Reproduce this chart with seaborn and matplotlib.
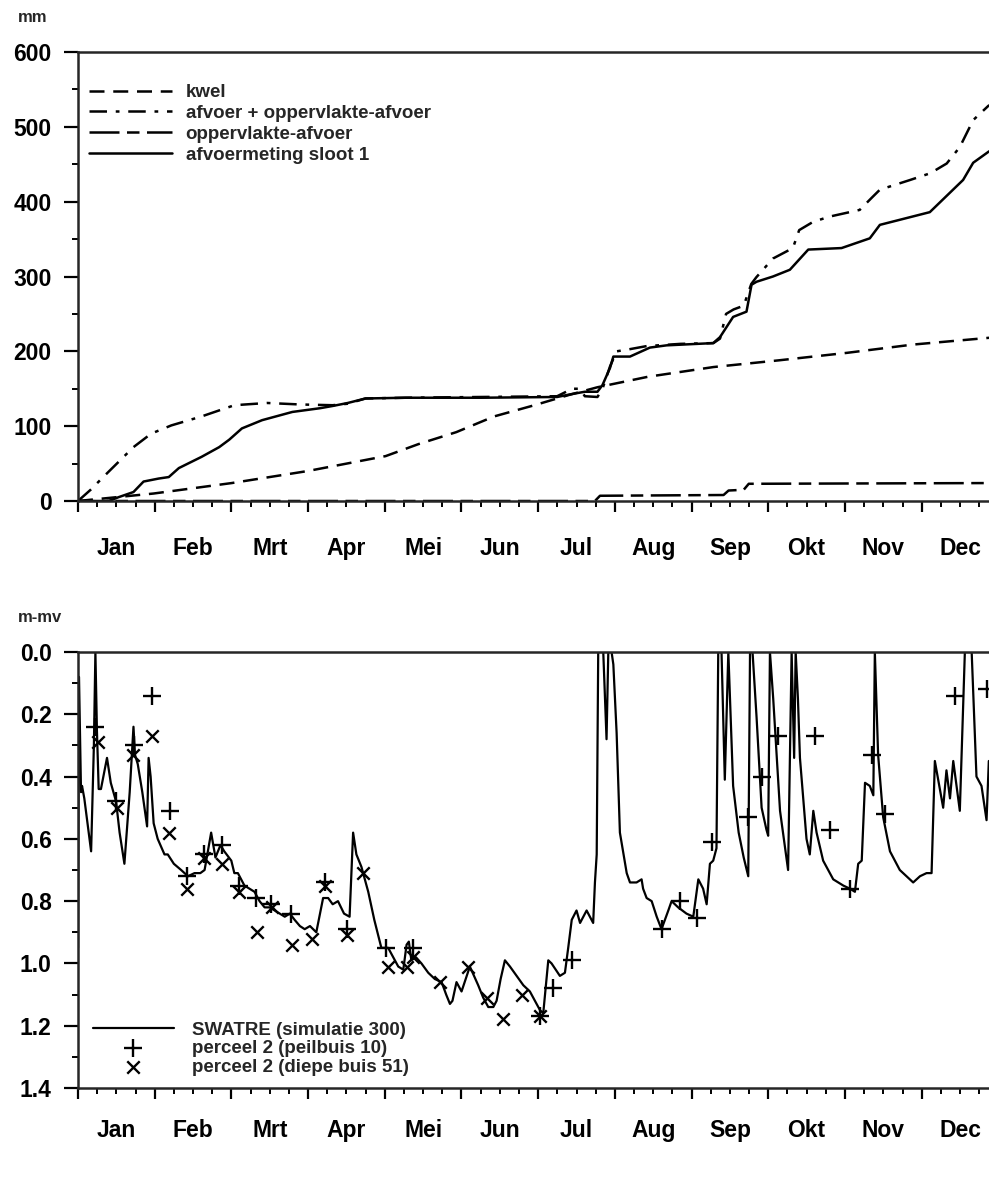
import numpy as np
import pandas as pd
import matplotlib
matplotlib.use("Agg")
import matplotlib.pyplot as plt
from matplotlib.ticker import FixedLocator, MultipleLocator, FormatStrFormatter
import seaborn as sns

# ---------------- data (day of year) ----------------
months = ["Jan", "Feb", "Mrt", "Apr", "Mei", "Jun", "Jul", "Aug", "Sep", "Okt", "Nov", "Dec"]

kwel_day = [0, 30, 61, 91, 105, 122, 135, 150, 165, 181, 195, 206, 226, 252, 278, 305, 331, 361, 365]
kwel_mm = [0, 10, 24, 40, 49, 60, 76, 92, 113, 128, 142, 152, 166, 179, 188, 198, 209, 218, 219]

afv_tot_day = [0, 5, 10, 16, 22, 29, 37, 49, 62, 75, 88, 101, 107, 114, 130, 160, 190, 196,
               199, 201, 206, 208, 211, 213.6, 219, 225.5, 239, 252, 254.6, 257, 260, 264,
               267, 269, 275.6, 283.5, 286, 291.5, 298, 310, 315, 318, 330, 338, 344.5,
               349.7, 355, 361, 365]
afv_tot_mm = [0, 15, 32, 52, 72, 90, 101, 113, 128, 131, 129, 128, 130, 137, 138, 139, 140, 150,
              150, 140, 139, 150, 180, 200, 203, 207, 210, 211, 217, 250, 256, 261,
              290, 299, 324, 338, 362, 373, 380, 389, 406, 416, 429, 438, 451,
              473, 509, 528, 535]

opp_day = [0, 205, 207, 256, 258, 264, 266, 365]
opp_mm = [0, 0, 7, 8, 14, 15, 23, 24]

meet_day = [0, 5, 10, 13, 16, 22, 26, 32, 36, 40, 49, 56, 60, 65, 73, 85, 96, 101, 107, 114,
            130, 160, 190, 196, 201, 206, 208, 211, 212.3, 218.9, 226.8, 233.4, 251.9, 254.6,
            259.8, 265.1, 267.1, 269.1, 275.6, 282.3, 289.6, 302.8, 314, 318, 337.8, 351,
            355, 361.2, 365]
meet_mm = [0, 0, -1, 1, 5, 12, 26, 30, 32, 44, 59, 72, 82, 97, 108, 119, 124, 127, 131, 137,
           138, 138, 139, 143, 146, 146, 155, 178, 193, 193, 205, 208, 211, 219,
           246, 253, 289, 293, 300, 309, 336, 338, 351, 369, 386, 429,
           452, 467, 472]

sw_day = [0.0, 0.4, 1.2, 1.6, 2.5, 5.2, 6.3, 6.9, 7.5, 8.2, 9.1, 11.5, 13.0, 15.1, 16.5, 18.4,
          20.5, 22.0, 22.6, 23.7, 25.5, 27.4, 28.0, 28.8, 30.0, 31.6, 34.3, 35.6, 38.0, 40.9,
          43.6, 46.2, 48.5, 50.2, 52.8, 54.5, 56.5, 58.0, 60.8, 62.0, 63.4, 66.0, 70.0, 72.0,
          74.0, 76.0, 78.0, 80.0, 82.0, 84.0, 85.9, 88.0, 89.9, 92.0, 94.5, 97.2, 99.2, 101.0,
          103.1, 105.5, 107.7, 109.1, 110.4, 112.4, 115.1, 117.5, 120.3, 123.0, 125.0, 127.0,
          129.0, 130.3, 131.2, 132.2, 134.0, 136.2, 138.9, 141.5, 144.2, 146.0, 147.5, 148.5,
          150.1, 152.1, 155.4, 158.7, 160.7, 162.7, 164.7, 166.0, 167.6, 169.3, 171.3, 176.6,
          179.2, 183.2, 184.5, 186.5, 187.8, 191.1, 193.1, 194.4, 195.8, 197.7, 199.1, 201.7,
          204.3, 205.0, 205.7, 206.3, 208.3, 209.6, 210.3, 211.6, 212.3, 213.6, 214.9, 217.6,
          218.9, 221.5, 223.5, 224.1, 225.5, 227.5, 229.5, 231.4, 234.1, 235.4, 238.0, 241.3,
          244.0, 246.0, 247.9, 249.3, 250.6, 251.9, 253.2, 253.9, 255.2, 256.5, 257.9, 259.8,
          262.0, 264.0, 265.8, 266.5, 267.5, 269.1, 271.1, 273.0, 273.7, 274.4, 275.7, 278.4,
          281.6, 283.0, 284.0, 284.6, 285.5, 286.3, 288.9, 290.2, 291.6, 292.9, 295.5, 299.5,
          303.5, 306.1, 308.1, 309.4, 310.8, 312.1, 314.0, 315.4, 316.0, 317.3, 319.3, 322.0,
          325.9, 331.2, 333.9, 336.5, 338.5, 339.8, 343.1, 344.4, 345.8, 347.1, 348.4, 349.7,
          351.7, 354.4, 356.3, 358.3, 360.3, 361.2]
sw_depth = [0.95, 0.08, 0.45, 0.43, 0.47, 0.64, 0.30, 0.00, 0.25, 0.44, 0.44, 0.34, 0.42, 0.48, 0.58, 0.68,
            0.45, 0.24, 0.33, 0.36, 0.45, 0.56, 0.34, 0.40, 0.55, 0.60, 0.65, 0.65, 0.68, 0.70,
            0.72, 0.71, 0.71, 0.70, 0.58, 0.66, 0.62, 0.64, 0.67, 0.71, 0.71, 0.75, 0.77, 0.80,
            0.82, 0.82, 0.83, 0.84, 0.85, 0.84, 0.86, 0.88, 0.89, 0.88, 0.90, 0.79, 0.79, 0.81,
            0.80, 0.84, 0.85, 0.58, 0.65, 0.69, 0.77, 0.86, 0.95, 0.95, 0.98, 1.01,
            1.02, 0.94, 0.93, 0.99, 0.98, 1.00, 1.03, 1.05, 1.06, 1.10, 1.13, 1.12,
            1.06, 1.09, 1.01, 1.07, 1.11, 1.14, 1.14, 1.12, 1.05, 0.99, 1.01, 1.07,
            1.09, 1.15, 1.16, 0.99, 1.00, 1.04, 1.03, 0.95, 0.86, 0.83, 0.87, 0.83,
            0.87, 0.74, 0.65, 0.00, 0.00, 0.28, 0.00, 0.00, 0.04, 0.26, 0.58, 0.71,
            0.74, 0.74, 0.73, 0.76, 0.79, 0.80, 0.85, 0.89, 0.83, 0.80, 0.82, 0.84,
            0.85, 0.73, 0.76, 0.81, 0.68, 0.67, 0.63, 0.00, 0.00, 0.41, 0.00, 0.43,
            0.58, 0.66, 0.72, 0.00, 0.00, 0.21, 0.50, 0.57, 0.59, 0.00, 0.15, 0.51,
            0.70, 0.00, 0.34, 0.00, 0.15, 0.34, 0.60, 0.65, 0.51, 0.58, 0.67, 0.73,
            0.75, 0.76, 0.77, 0.68, 0.67, 0.42, 0.43, 0.46, 0.00, 0.33, 0.53, 0.64,
            0.70, 0.74, 0.72, 0.71, 0.71, 0.35, 0.50, 0.38, 0.47, 0.35, 0.43, 0.51,
            0.00, 0.00, 0.40, 0.43, 0.54, 0.35]

peil_day = [6.9, 15.1, 22.4, 29.2, 36.5, 43.1, 49.8, 57.0, 64.0, 70.7, 76.6, 84.5, 98.0, 106.5,
            122.3, 132.9, 183.2, 188.5, 195.8, 231.4, 238.7, 245.3, 251.3, 265.8, 271.1, 277.7,
            292.2, 298.2, 306.1, 314.7, 320.0, 347.7, 360.3]
peil_depth = [0.24, 0.48, 0.30, 0.14, 0.51, 0.72, 0.65, 0.62, 0.75, 0.79, 0.81, 0.84, 0.74, 0.89,
              0.95, 0.95, 1.17, 1.08, 0.99, 0.89, 0.80, 0.855, 0.61, 0.53, 0.40, 0.27,
              0.27, 0.57, 0.76, 0.33, 0.52, 0.14, 0.12]

diep_day = [8.1, 15.3, 22.0, 29.2, 36.2, 43.3, 49.9, 57.0, 64.0, 70.8, 76.8, 84.7, 92.6, 98.0,
            106.5, 113.2, 123.0, 130.3, 132.9, 143.4, 154.6, 162.0, 168.6, 175.9, 183.2]
diep_depth = [0.29, 0.50, 0.33, 0.27, 0.58, 0.76, 0.66, 0.68, 0.77, 0.90, 0.82, 0.94, 0.92, 0.75,
              0.91, 0.71, 1.01, 1.01, 0.98, 1.06, 1.01, 1.11, 1.18, 1.10, 1.17]

# ---------------- style ----------------
sns.set_theme(style="ticks")
plt.rcParams['font.family'] = ['Liberation Sans', 'DejaVu Sans']
plt.rcParams['font.weight'] = 'bold'
plt.rcParams['axes.linewidth'] = 1.8

FIG_W, FIG_H = 989, 1180
fig = plt.figure(figsize=(FIG_W / 100, FIG_H / 100), dpi=100)

L = 78 / FIG_W
W = 920.4 / FIG_W
ax1 = fig.add_axes([L, 1 - 501 / FIG_H, W, 449 / FIG_H])
ax2 = fig.add_axes([L, 1 - 1088 / FIG_H, W, 436 / FIG_H])

MONTH = 365 / 12
month_edges = [i * MONTH for i in range(13)]
month_mid = [(i + 0.5) * MONTH for i in range(12)]
quarter = [(i + q / 4) * MONTH for i in range(12) for q in (1, 2, 3)]

LW = 1.8
TICK_FS = 16.5


def style_axes(ax, label_pad):
    ax.set_xlim(0, 365)
    ax.spines['right'].set_visible(False)
    ax.spines['top'].set_visible(True)
    ax.xaxis.set_major_locator(FixedLocator(month_edges))
    ax.xaxis.set_minor_locator(FixedLocator(quarter))
    ax.tick_params(axis='x', which='major', direction='out', length=8, width=1.6,
                   labelbottom=False, color='black')
    ax.tick_params(axis='x', which='minor', direction='out', length=4, width=1.4, color='black')
    ax.tick_params(axis='y', which='major', direction='out', length=10, width=1.6,
                   pad=9, labelsize=TICK_FS, color='black', labelcolor='black')
    ax.tick_params(axis='y', which='minor', direction='out', length=4, width=1.4, color='black')
    for lab in ax.get_yticklabels():
        lab.set_fontweight('bold')
    sec = ax.secondary_xaxis('bottom')
    sec.set_xticks(month_mid, labels=months)
    sec.tick_params(length=0, pad=label_pad, labelsize=TICK_FS, labelcolor='black')
    sec.spines['bottom'].set_visible(False)
    for lab in sec.get_xticklabels():
        lab.set_fontweight('bold')
    ax.set_xlabel('')
    ax.set_ylabel('')
    ax.set_facecolor('white')


# ---------------- top chart ----------------
sns.lineplot(x=kwel_day, y=kwel_mm, ax=ax1, color='black', lw=LW, label='kwel', sort=True)
ax1.lines[-1].set_dashes((6, 3.5))
sns.lineplot(x=afv_tot_day, y=afv_tot_mm, ax=ax1, color='black', lw=LW,
             label='afvoer + oppervlakte-afvoer', sort=True)
ax1.lines[-1].set_dashes((7, 3.5, 1.5, 3.5))
sns.lineplot(x=opp_day, y=opp_mm, ax=ax1, color='black', lw=LW, label='oppervlakte-afvoer', sort=True)
ax1.lines[-1].set_dashes((12, 3, 5, 3))
sns.lineplot(x=meet_day, y=meet_mm, ax=ax1, color='black', lw=LW, label='afvoermeting sloot 1', sort=True)

ax1.set_ylim(0, 600)
ax1.yaxis.set_major_locator(MultipleLocator(100))
ax1.yaxis.set_minor_locator(MultipleLocator(50))
style_axes(ax1, 26)
h, l = ax1.get_legend_handles_labels()
leg1 = ax1.legend(h, l, loc='upper left', bbox_to_anchor=((89 - 78) / 920.4, (501 - 84) / 449),
                  frameon=False, fontsize=13.5, handlelength=4.4, handletextpad=0.75,
                  labelspacing=0.2, borderpad=0, borderaxespad=0)
for t in leg1.get_texts():
    t.set_fontweight('bold')

# ---------------- bottom chart ----------------
sns.lineplot(x=sw_day, y=sw_depth, ax=ax2, color='black', lw=1.6, label='SWATRE (simulatie 300)',
             sort=True, estimator=None)
sns.scatterplot(x=peil_day, y=peil_depth, ax=ax2, marker='+', s=150, color='black', linewidth=1.7,
                label='perceel 2 (peilbuis 10)')
sns.scatterplot(x=diep_day, y=diep_depth, ax=ax2, marker='x', s=80, color='black', linewidth=1.7,
                label='perceel 2 (diepe buis 51)')
ax2.set_ylim(1.4, 0.0)
ax2.yaxis.set_major_locator(MultipleLocator(0.2))
ax2.yaxis.set_minor_locator(MultipleLocator(0.1))
ax2.yaxis.set_major_formatter(FormatStrFormatter('%.1f'))
style_axes(ax2, 22)
h, l = ax2.get_legend_handles_labels()
leg2 = ax2.legend(h, l, loc='lower left', bbox_to_anchor=((93 - 78) / 920.4, (1088 - 1076) / 436),
                  frameon=False, fontsize=13.5, handlelength=4.3, handletextpad=1.0,
                  labelspacing=0.08, borderpad=0, borderaxespad=0)
for t in leg2.get_texts():
    t.set_fontweight('bold')

# axis unit labels
fig.text(18 / FIG_W, 1 - 18 / FIG_H, 'mm', fontsize=12, fontweight='bold', va='center', ha='left')
fig.text(18 / FIG_W, 1 - 618 / FIG_H, 'm-mv', fontsize=12, fontweight='bold', va='center', ha='left')

fig.savefig('out.png', dpi=100, facecolor='white')
